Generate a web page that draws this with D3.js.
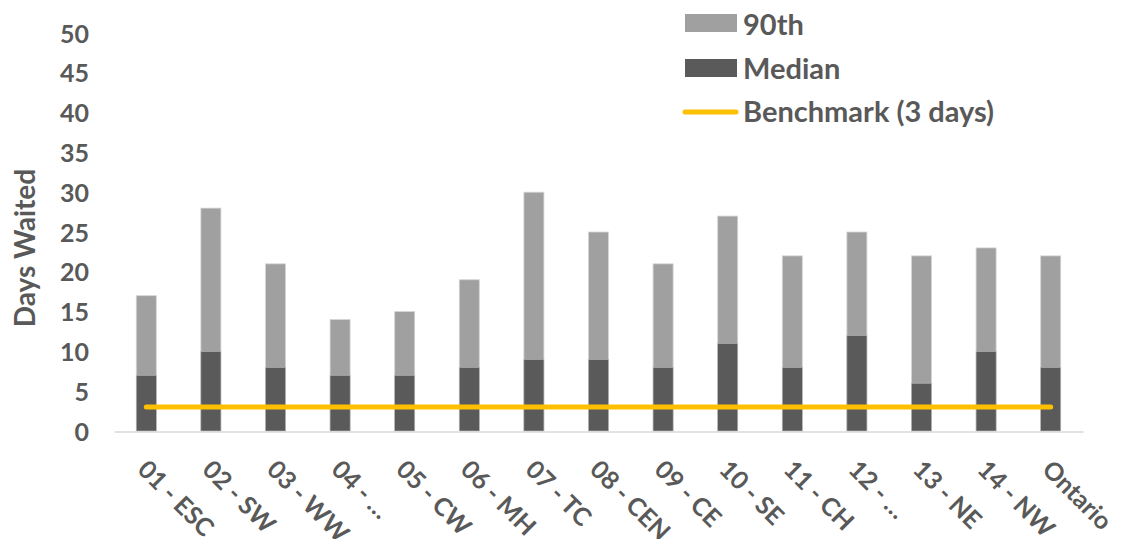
<!DOCTYPE html>
<html>
<head>
<meta charset="utf-8">
<script src="https://cdn.jsdelivr.net/npm/d3@7"></script>
<style>
  html, body { margin: 0; padding: 0; background: #fff; }
  svg text { font-family: Lato, "Open Sans", sans-serif; font-weight: 700; fill: #595959; }
</style>
</head>
<body>
<svg id="chart" width="1121" height="539"></svg>
<script>
// Wait times by region: 90th percentile, median, and the 3-day benchmark
const categories = ["01 - ESC", "02 - SW", "03 - WW", "04 - …", "05 - CW", "06 - MH", "07 - TC",
  "08 - CEN", "09 - CE", "10 - SE", "11 - CH", "12 - …", "13 - NE", "14 - NW", "Ontario"];
const p90 = [17, 28, 21, 14, 15, 19, 30, 25, 21, 27, 22, 25, 22, 23, 22];
const median = [7, 10, 8, 7, 7, 8, 9, 9, 8, 11, 8, 12, 6, 10, 8];
const benchmark = 3;
const yTicks = [0, 5, 10, 15, 20, 25, 30, 35, 40, 45, 50];

const svg = d3.select("#chart");
const plotLeft = 114, plotRight = 1083, plotTop = 33, plotBottom = 431;

const x = d3.scaleBand().domain(categories).range([plotLeft, plotRight]).paddingInner(0.69).paddingOuter(0.345);
const y = d3.scaleLinear().domain([0, 50]).range([plotBottom, plotTop]);

// y tick labels (no axis line, no gridlines)
const yAxis = d3.axisLeft(y).tickValues(yTicks).tickSize(0).tickPadding(0);
const gy = svg.append("g").attr("transform", "translate(89,0)").call(yAxis);
gy.select(".domain").remove();
gy.selectAll("text").attr("font-size", 25).style("font-family", "Lato, sans-serif").style("font-weight", 700).attr("fill", "#595959").attr("dy", "0.36em");

// y title
svg.append("text")
  .attr("transform", `translate(35,248) rotate(-90)`)
  .attr("text-anchor", "middle")
  .attr("font-size", 28)
  .text("Days Waited");

// 90th percentile bars (full height)
svg.append("g").selectAll("rect").data(categories).join("rect")
  .attr("x", d => x(d))
  .attr("width", x.bandwidth())
  .attr("y", (d, i) => y(p90[i]))
  .attr("height", (d, i) => y(0) - y(p90[i]))
  .attr("fill", "#a0a0a0")
  .attr("stroke", "#d4d4d4").attr("stroke-width", 0.8);

// median bars overlaid
svg.append("g").selectAll("rect").data(categories).join("rect")
  .attr("x", d => x(d))
  .attr("width", x.bandwidth())
  .attr("y", (d, i) => y(median[i]))
  .attr("height", (d, i) => y(0) - y(median[i]))
  .attr("fill", "#5a5a5a")
  .attr("stroke", "#bdbdbd").attr("stroke-width", 0.6);

// x axis baseline
const xAxis = d3.axisBottom(x).tickSize(0).tickFormat("");
const gx = svg.append("g").attr("transform", `translate(0,${plotBottom + 0.5})`).call(xAxis);
gx.select(".domain").attr("stroke", "#d9d9d9").attr("stroke-width", 1.5);

// x labels rotated 45°
svg.append("g").selectAll("text").data(categories).join("text")
  .attr("transform", d => `translate(${x(d) + x.bandwidth() / 2 - 10},${plotBottom + 40}) rotate(45)`)
  .attr("text-anchor", "start")
  .attr("font-size", 25)
  .text(d => d);

// benchmark line
const cx = d => x(d) + x.bandwidth() / 2;
svg.append("path")
  .datum(categories)
  .attr("d", d3.line().x(d => cx(d)).y(() => y(benchmark)))
  .attr("fill", "none")
  .attr("stroke", "#ffc000")
  .attr("stroke-width", 5)
  .attr("stroke-linecap", "round");

// legend
const legend = svg.append("g");
legend.append("rect").attr("x", 685).attr("y", 14).attr("width", 52).attr("height", 18).attr("fill", "#a0a0a0");
legend.append("text").attr("x", 743).attr("y", 25).attr("dy", "0.36em").attr("font-size", 29).text("90th");
legend.append("rect").attr("x", 685).attr("y", 59).attr("width", 52).attr("height", 18).attr("fill", "#5a5a5a");
legend.append("text").attr("x", 743).attr("y", 69).attr("dy", "0.36em").attr("font-size", 29).text("Median");
legend.append("line").attr("x1", 685).attr("x2", 736).attr("y1", 112).attr("y2", 112)
  .attr("stroke", "#ffc000").attr("stroke-width", 5).attr("stroke-linecap", "round");
legend.append("text").attr("x", 743).attr("y", 112).attr("dy", "0.36em").attr("font-size", 29).text("Benchmark (3 days)");
</script>
</body>
</html>
